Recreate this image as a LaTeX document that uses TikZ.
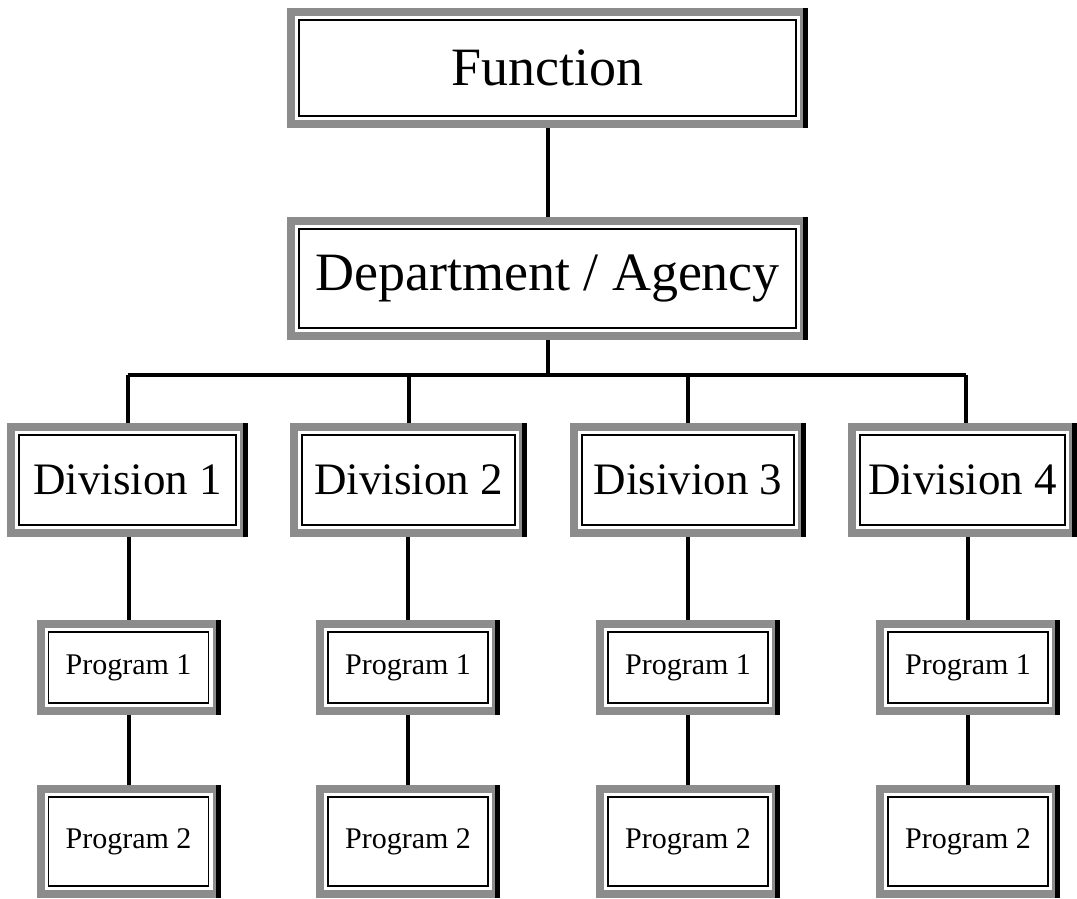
\documentclass[tikz,border=0pt]{standalone}
\usepackage{fontspec}
\setmainfont{Liberation Serif}
\tikzset{
  gbox/.style={draw=black!45, line width=8pt, fill=white, inner sep=0pt, outer sep=4pt, align=center,
    path picture={\draw[black, line width=1.3pt]
      ([shift={(8pt,-8pt)}]path picture bounding box.north west) rectangle
      ([shift={(-8pt,8pt)}]path picture bounding box.south east);},
    append after command={\pgfextra{\let\mynode\tikzlastnode}
      ([xshift=-2.5pt]\mynode.north east) edge[line width=5pt, draw=black] ([xshift=-2.5pt]\mynode.south east)}},
  bigtxt/.style={font=\fontsize{54}{60}\selectfont},
  divtxt/.style={font=\fontsize{45}{52}\selectfont},
  progtxt/.style={font=\fontsize{30}{34}\selectfont},
  conn/.style={line width=4pt, draw=black},
}
\begin{document}
\begin{tikzpicture}[x=1pt,y=-1pt]
\useasboundingbox (0,0) rectangle (1077,899);
% connectors
\coordinate (bus) at (547.5,375);
\coordinate (busL) at (127.5,375);
\coordinate (busR) at (966,375);
% nodes
\node[gbox, bigtxt, minimum width=513pt, minimum height=112pt] (fn) at (547.5,68) {Function};
\node[gbox, bigtxt, minimum width=513pt, minimum height=115pt] (dept) at (547.5,278.5) {Department / Agency};
\node[gbox, divtxt, minimum width=233pt, minimum height=106pt] (d1) at (127.5,480) {Division 1};
\node[gbox, divtxt, minimum width=229pt, minimum height=106pt] (d2) at (408.5,480) {Division 2};
\node[gbox, divtxt, minimum width=228pt, minimum height=106pt] (d3) at (688,480) {Disivion 3};
\node[gbox, divtxt, minimum width=221pt, minimum height=106pt] (d4) at (962.5,480) {Division 4};
\foreach \i/\x in {1/128.5, 2/408, 3/688, 4/968} {
  \node[gbox, progtxt, minimum width=176pt, minimum height=87pt] (p\i a) at (\x,667.5) {Program 1};
  \node[gbox, progtxt, minimum width=176pt, minimum height=105pt] (p\i b) at (\x,841.5) {Program 2};
}
\draw[conn] (fn) -- (dept);
\draw[conn] (dept) -- (bus);
\draw[conn] (busL) -- (busR);
\draw[conn] (busL) -- (d1);
\draw[conn] (d2 |- bus) -- (d2);
\draw[conn] (d3 |- bus) -- (d3);
\draw[conn] (busR) -- (busR |- d4.north);
\foreach \i in {1,2,3,4} {
  \draw[conn] (p\i a |- d\i.south) -- (p\i a);
  \draw[conn] (p\i a) -- (p\i b);
}
\end{tikzpicture}
\end{document}
